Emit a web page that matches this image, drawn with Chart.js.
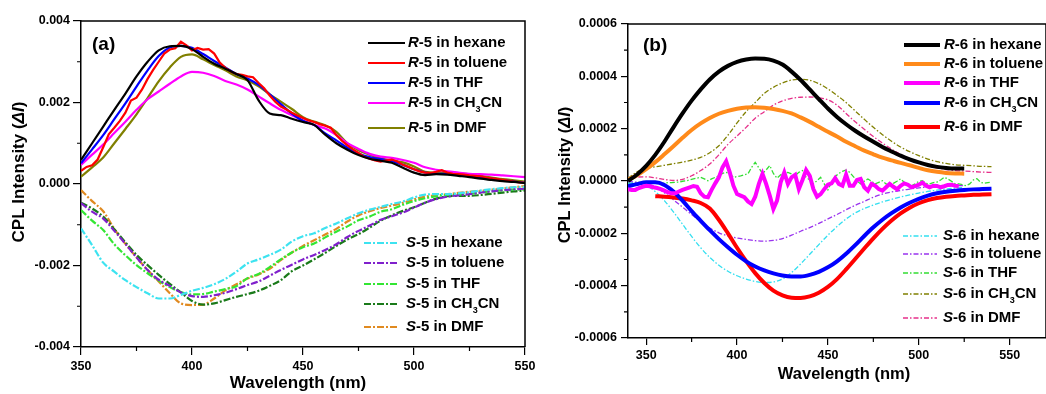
<!DOCTYPE html>
<html>
<head>
<meta charset="utf-8">
<script src="https://cdn.jsdelivr.net/npm/chart.js@4.4.0/dist/chart.umd.min.js"></script>
<style>
html, body { margin: 0; padding: 0; background: #fff; }
#wrap { position: relative; width: 1046px; height: 394px; overflow: hidden; }
canvas { position: absolute; top: 0; }
#cplA { left: 0; }
#cplB { left: 540px; }
</style>
</head>
<body>
<div id="wrap">
  <canvas id="cplA" width="560" height="394"></canvas>
  <canvas id="cplB" width="506" height="394"></canvas>
</div>
<script>
const FONT = "'Liberation Sans', Arial, Helvetica, sans-serif";
const solvents = ['hexane', 'toluene', 'THF', 'CH3CN', 'DMF'];

// ---- panel (a): compound 5 ----
const nmA = [350,355,360,365,370,375,380,385,390,395,400,405,410,415,420,425,430,435,440,445,450,
  455,460,465,470,475,480,485,490,495,500,505,510,515,520,525,530,535,540,545,550];
const nmAfine = [350,352.5,355,357.5,360,362.5,365,367.5,370,372.5,375,377.5,380,382.5,385,387.5,390,392.5,
  395,397.5,400,402.5,405,407.5,410,412.5,415,417.5,420,422.5,425,427.5,430,432.5,435,437.5,440,442.5,445,
  447.5,450,452.5,455,457.5,460,462.5,465,467.5,470,472.5,475,477.5,480,482.5,485,487.5,490,492.5,495,497.5,
  500,502.5,505,507.5,510,512.5,515,517.5,520,522.5,525,527.5,530,532.5,535,537.5,540,542.5,545,547.5,550];

const r5Hexane = [0.00059,0.00100,0.00141,0.00182,0.00222,0.00264,0.00300,0.00328,0.00338,0.00339,0.00331,
  0.00312,0.00295,0.00283,0.00270,0.00255,0.00205,0.00173,0.00169,0.00160,0.00152,0.00145,0.00121,0.00100,
  0.00084,0.00071,0.00062,0.00057,0.00052,0.00040,0.00028,0.00022,0.00024,0.00023,0.00020,0.00017,0.00013,
  0.00010,0.00007,0.00005,0.00002];
const r5Toluene = [0.00032,0.00042,0.00046,0.00060,0.00090,0.00122,0.00138,0.00155,0.00175,0.00205,0.00212,
  0.00232,0.00258,0.00280,0.00300,0.00320,0.00330,0.00333,0.00349,0.00340,0.00328,0.00334,0.00330,0.00331,
  0.00320,0.00298,0.00285,0.00276,0.00270,0.00268,0.00264,0.00262,0.00248,0.00235,0.00217,0.00202,0.00190,
  0.00183,0.00175,0.00168,0.00162,0.00156,0.00152,0.00147,0.00143,0.00138,0.00120,0.00106,0.00095,0.00085,
  0.00076,0.00067,0.00062,0.00058,0.00055,0.00058,0.00060,0.00055,0.00047,0.00042,0.00036,0.00031,0.00028,
  0.00027,0.00030,0.00034,0.00028,0.00025,0.00024,0.00023,0.00021,0.00020,0.00019,0.00016,0.00014,0.00012,
  0.00010,0.00008,0.00006,0.00004,0.00003];
const r5THF = [0.00051,0.00085,0.00120,0.00159,0.00198,0.00239,0.00279,0.00314,0.00335,0.00339,0.00334,
  0.00319,0.00302,0.00286,0.00270,0.00259,0.00243,0.00220,0.00196,0.00173,0.00155,0.00145,0.00124,0.00107,
  0.00089,0.00075,0.00066,0.00061,0.00056,0.00047,0.00036,0.00028,0.00025,0.00025,0.00022,0.00019,0.00016,
  0.00013,0.00009,0.00006,0.00003];
const r5CH3CN = [0.00047,0.00072,0.00097,0.00125,0.00153,0.00182,0.00208,0.00227,0.00246,0.00264,0.00275,
  0.00273,0.00265,0.00253,0.00244,0.00232,0.00215,0.00198,0.00182,0.00169,0.00156,0.00145,0.00136,0.00120,
  0.00100,0.00086,0.00074,0.00067,0.00064,0.00059,0.00052,0.00041,0.00035,0.00031,0.00028,0.00025,0.00024,
  0.00023,0.00021,0.00019,0.00017];
const r5DMF = [0.00018,0.00041,0.00065,0.00100,0.00135,0.00171,0.00211,0.00252,0.00286,0.00312,0.00318,
  0.00306,0.00292,0.00279,0.00264,0.00254,0.00240,0.00220,0.00202,0.00184,0.00164,0.00153,0.00144,0.00128,
  0.00100,0.00083,0.00072,0.00063,0.00058,0.00053,0.00043,0.00030,0.00028,0.00028,0.00026,0.00024,0.00020,
  0.00016,0.00012,0.00009,0.00006];

const s5Hexane = [-0.00109,-0.00150,-0.00193,-0.00215,-0.00236,-0.00253,-0.00268,-0.00281,-0.00281,-0.00272,
  -0.00262,-0.00255,-0.00246,-0.00233,-0.00215,-0.00195,-0.00185,-0.00174,-0.00161,-0.00141,-0.00128,-0.00121,
  -0.00108,-0.00097,-0.00084,-0.00072,-0.00063,-0.00056,-0.00049,-0.00043,-0.00033,-0.00026,-0.00025,-0.00025,
  -0.00023,-0.00020,-0.00016,-0.00013,-0.00010,-0.00008,-0.00007];
const s5Toluene = [-0.00047,-0.00068,-0.00085,-0.00115,-0.00147,-0.00180,-0.00211,-0.00235,-0.00250,-0.00266,
  -0.00275,-0.00277,-0.00273,-0.00267,-0.00258,-0.00248,-0.00239,-0.00225,-0.00211,-0.00198,-0.00185,-0.00174,
  -0.00162,-0.00148,-0.00130,-0.00115,-0.00102,-0.00088,-0.00079,-0.00070,-0.00058,-0.00046,-0.00037,-0.00031,
  -0.00028,-0.00025,-0.00021,-0.00018,-0.00015,-0.00013,-0.00011];
const s5THF = [-0.00064,-0.00090,-0.00113,-0.00148,-0.00175,-0.00199,-0.00219,-0.00237,-0.00253,-0.00265,
  -0.00271,-0.00270,-0.00264,-0.00258,-0.00251,-0.00231,-0.00221,-0.00204,-0.00185,-0.00168,-0.00155,-0.00146,
  -0.00131,-0.00117,-0.00104,-0.00089,-0.00080,-0.00068,-0.00062,-0.00051,-0.00042,-0.00035,-0.00030,-0.00027,
  -0.00026,-0.00024,-0.00021,-0.00018,-0.00016,-0.00014,-0.00013];
const s5CH3CN = [-0.00046,-0.00060,-0.00080,-0.00111,-0.00143,-0.00174,-0.00199,-0.00223,-0.00245,-0.00266,
  -0.00287,-0.00296,-0.00293,-0.00285,-0.00277,-0.00270,-0.00262,-0.00250,-0.00236,-0.00214,-0.00200,-0.00185,
  -0.00169,-0.00152,-0.00136,-0.00123,-0.00107,-0.00090,-0.00077,-0.00066,-0.00057,-0.00046,-0.00036,-0.00030,
  -0.00029,-0.00029,-0.00027,-0.00024,-0.00021,-0.00018,-0.00016];
const s5DMF = [-0.00015,-0.00042,-0.00067,-0.00110,-0.00147,-0.00180,-0.00211,-0.00239,-0.00268,-0.00293,
  -0.00297,-0.00296,-0.00281,-0.00261,-0.00246,-0.00232,-0.00222,-0.00208,-0.00187,-0.00168,-0.00152,-0.00138,
  -0.00124,-0.00110,-0.00092,-0.00077,-0.00067,-0.00059,-0.00053,-0.00046,-0.00038,-0.00031,-0.00028,-0.00025,
  -0.00022,-0.00019,-0.00017,-0.00014,-0.00011,-0.00008,-0.00005];

// ---- panel (b): compound 6 ----
const nmB = [340,345,350,355,360,365,370,375,380,385,390,395,400,405,410,415,420,425,430,435,440,
  445,450,455,460,465,470,475,480,485,490,495,500,505,510,515,520,525,530,535,540];
const nmBfine = [340,342,344,346,348,350,352,354,356,358,360,362,364,366,368,370,372,374,376,378,380,
  382,384,386,388,390,392,394,396,398,400,402,404,406,408,410,412,414,416,418,420,422,424,426,428,430,
  432,434,436,438,440,442,444,446,448,450,452,454,456,458,460,462,464,466,468,470,472,474,476,478,480,
  482,484,486,488,490,492,494,496,498,500,502,504,506,508,510,512,514,516,518,520,522,524,526,528,530,
  532,534,536,538,540];

const r6Hexane = [0.000000,0.000025,0.000058,0.000100,0.000150,0.000205,0.000258,0.000307,0.000350,0.000388,
  0.000418,0.000440,0.000455,0.000464,0.000468,0.000467,0.000460,0.000445,0.000418,0.000386,0.000350,0.000313,
  0.000277,0.000245,0.000217,0.000192,0.000170,0.000150,0.000130,0.000113,0.000097,0.000083,0.000071,0.000061,
  0.000054,0.000050,0.000048,0.000048,null,null,null];
const r6Toluene = [0.000005,0.000022,0.000045,0.000072,0.000102,0.000133,0.000165,0.000195,0.000220,0.000241,
  0.000257,0.000268,0.000276,0.000281,0.000282,0.000280,0.000275,0.000268,0.000258,0.000243,0.000226,0.000207,
  0.000188,0.000170,0.000150,0.000133,0.000116,0.000102,0.000089,0.000079,0.000069,0.000060,0.000050,0.000041,
  0.000035,0.000031,0.000029,0.000028,null,null,null];
const r6THF = [-0.000031,-0.000034,-0.000034,-0.000027,-0.000022,-0.000018,-0.00002,-0.000024,-0.000027,
  -0.000031,-0.000037,-0.000043,-0.000047,-0.000047,-0.00004,-0.000034,-0.000029,-0.000024,-0.000019,
  -0.000022,-0.000047,-0.00006,-0.000062,-0.000034,-0.000009,0.000014,0.000052,0.000075,0.000033,-0.000018,
  -0.00005,-0.000056,-0.000062,-0.000078,-0.000088,-0.00006,-0.000011,0.000027,-0.000011,-0.000056,-0.000107,
  -0.000075,-0.000005,0.000033,-0.000011,0.000014,0.000024,-0.000031,0.000004,0.000042,0.00002,-0.000031,
  -0.00006,-0.00005,-0.000031,-0.000014,-0.000009,0.000011,-0.000011,-0.000018,0.000024,-0.000018,-0.000018,
  0.000004,0.000008,-0.000024,-0.000037,-0.000011,-0.000018,-0.000031,-0.000037,-0.000024,-0.000011,-0.000022,
  -0.000031,-0.000018,-0.000009,-0.000014,-0.000024,-0.00002,-0.000014,-0.000006,-0.000018,-0.000024,-0.000018,
  -0.000019,-0.000024,-0.00002,-0.000015,-0.000014,-0.000018,-0.000019];
const r6CH3CN = [-0.000020,-0.000012,-0.000005,-0.000005,-0.000015,-0.000040,-0.000075,-0.000115,-0.000152,
  -0.000188,-0.000222,-0.000253,-0.000282,-0.000307,-0.000327,-0.000342,-0.000353,-0.000361,-0.000365,-0.000365,
  -0.000359,-0.000347,-0.000330,-0.000307,-0.000278,-0.000245,-0.000210,-0.000177,-0.000148,-0.000123,-0.000101,
  -0.000083,-0.000068,-0.000056,-0.000047,-0.000041,-0.000037,-0.000034,-0.000032,-0.000031,-0.000030];
const r6DMF = [null,null,null,-0.000058,-0.000060,-0.000063,-0.000067,-0.000074,-0.000084,-0.000105,-0.000148,
  -0.000200,-0.000255,-0.000306,-0.000352,-0.000390,-0.000419,-0.000437,-0.000446,-0.000447,-0.000441,-0.000427,
  -0.000405,-0.000375,-0.000338,-0.000298,-0.000258,-0.000219,-0.000183,-0.000151,-0.000124,-0.000102,-0.000085,
  -0.000073,-0.000065,-0.000060,-0.000057,-0.000055,-0.000053,-0.000052,-0.000051];

const s6Hexane = [-0.000008,-0.000010,-0.000018,-0.000040,-0.000075,-0.000118,-0.000165,-0.000212,-0.000255,
  -0.000292,-0.000322,-0.000345,-0.000362,-0.000375,-0.000384,-0.000388,-0.000386,-0.000374,-0.000350,-0.000317,
  -0.000280,-0.000243,-0.000207,-0.000174,-0.000145,-0.000122,-0.000105,-0.000092,-0.000080,-0.000070,-0.000061,
  -0.000053,-0.000046,-0.000040,-0.000035,-0.000031,-0.000027,-0.000024,null,null,null];
const s6Toluene = [-0.000002,-0.000005,-0.000010,-0.000022,-0.000045,-0.000072,-0.000100,-0.000128,-0.000155,
  -0.000180,-0.000198,-0.000210,-0.000218,-0.000223,-0.000228,-0.000230,-0.000227,-0.000220,-0.000207,-0.000192,
  -0.000178,-0.000162,-0.000145,-0.000128,-0.000110,-0.000093,-0.000078,-0.000062,-0.000050,-0.000042,-0.000036,
  -0.000031,-0.000026,-0.000023,-0.000021,-0.000019,-0.000018,-0.000018,null,null,null];
const s6THF = [-0.000009,-0.000008,-0.000006,-0.000005,-0.000005,-0.000006,-0.000008,-0.000009,-0.000009,
  -0.000009,-0.000008,-0.000006,-0.000006,-0.000005,-0.000004,-0.000001,0.000001,0.000004,0.000008,0.000011,
  0.000014,0.000008,0.000001,0.000008,0.000014,0.00002,0.000029,0.000033,0.000027,0.000014,0.000017,0.00002,
  0.000024,0.000027,0.000052,0.000071,0.00005,0.000029,0.000042,0.000059,0.000029,0.000011,0.000024,0.000029,
  0.000033,0.000027,0.00002,0.000033,0.00004,0.000014,0.000004,-0.000011,0.000001,0.000014,-0.000011,-0.000034,
  -0.000005,0.000017,0.000029,0.000037,0.000042,0.000033,0.000017,0.000001,-0.000011,-0.000001,0.000008,
  -0.000001,-0.000011,-0.000005,0.000001,-0.000011,-0.000018,-0.000009,-0.000001,0.000008,-0.000005,-0.000011,
  -0.000018,-0.000011,-0.000001,0.000001,-0.000009,-0.000011,-0.000006,-0.000004,0.000004,0.000014,0.000008,
  -0.000001,-0.000011,-0.000011,-0.000014,-0.000018,-0.000011,0.000004,0.000009,-0.000005,-0.000009,-0.000006,
  -0.000005];
const s6CH3CN = [0.000010,0.000035,0.000048,0.000054,0.000060,0.000066,0.000072,0.000080,0.000090,0.000108,
  0.000135,0.000175,0.000222,0.000265,0.000300,0.000335,0.000358,0.000375,0.000386,0.000389,0.000385,0.000372,
  0.000352,0.000327,0.000300,0.000268,0.000236,0.000205,0.000177,0.000152,0.000130,0.000112,0.000097,0.000084,
  0.000074,0.000067,0.000062,0.000060,0.000058,0.000056,0.000055];
const s6DMF = [0.000008,0.000015,0.000016,0.000012,0.000006,0.000002,0.000006,0.000020,0.000040,0.000065,
  0.000100,0.000140,0.000172,0.000205,0.000240,0.000265,0.000290,0.000306,0.000316,0.000320,0.000321,0.000318,
  0.000310,0.000290,0.000258,0.000226,0.000198,0.000170,0.000145,0.000122,0.000101,0.000083,0.000070,0.000059,
  0.000050,0.000044,0.000040,0.000038,0.000036,0.000034,0.000033];

function pts(xs, ys) {
  return ys.map((y, i) => ({ x: xs[i], y: y })).filter(p => p.y !== null);
}

// smooth spectra use monotone splines, noisy traces are drawn point to point
function series(label, xs, ys, color, width, dash, smooth) {
  return {
    label: label, data: pts(xs, ys),
    borderColor: color, backgroundColor: color,
    borderWidth: width, borderDash: dash || [],
    pointRadius: 0, fill: false,
    cubicInterpolationMode: smooth ? 'monotone' : 'default',
    tension: smooth ? 0.4 : 0
  };
}

// legend text: italic R / S, subscript 3 in CH3CN
function labelRuns(label) {
  const runs = [{ t: label[0], it: true }];
  const rest = label.slice(1);
  const k = rest.indexOf('CH3CN');
  if (k < 0) runs.push({ t: rest });
  else runs.push({ t: rest.slice(0, k) + 'CH' }, { t: '3', sub: true }, { t: 'CN' + rest.slice(k + 5) });
  return runs;
}

function runFont(r, size) {
  const s = r.sub ? Math.round(size * 0.6) : size;
  return (r.it ? 'italic ' : '') + 'bold ' + s + 'px ' + FONT;
}

function runsWidth(ctx, runs, size) {
  let w = 0;
  runs.forEach(r => { ctx.font = runFont(r, size); w += ctx.measureText(r.t).width; });
  return w;
}

function drawRuns(ctx, runs, x, y, size) {
  ctx.textBaseline = 'middle';
  ctx.textAlign = 'left';
  runs.forEach(r => {
    ctx.font = runFont(r, size);
    ctx.fillText(r.t, x, r.sub ? y + size * 0.45 : y);
    x += ctx.measureText(r.t).width;
  });
}

// frame, minor ticks, titles, panel tag and the two legend blocks
function decor(o) {
  return {
    id: 'decor',
    afterDraw(chart) {
      const ctx = chart.ctx, a = chart.chartArea;
      const sx = chart.scales.x, sy = chart.scales.y;
      ctx.save();
      ctx.strokeStyle = '#000';
      ctx.setLineDash([]);
      ctx.lineWidth = 1.5;
      ctx.beginPath();
      ctx.moveTo(a.left, a.top);
      ctx.lineTo(a.right, a.top);
      ctx.lineTo(a.right, a.bottom);
      ctx.stroke();

      ctx.lineWidth = 1.2;
      ctx.beginPath();
      o.minorX.forEach(v => {
        const p = sx.getPixelForValue(v);
        ctx.moveTo(p, a.bottom); ctx.lineTo(p, a.bottom + 4);
      });
      o.minorY.forEach(v => {
        const p = sy.getPixelForValue(v);
        ctx.moveTo(a.left, p); ctx.lineTo(a.left - 4, p);
      });
      ctx.stroke();

      ctx.fillStyle = '#000';
      ctx.font = 'bold 19px ' + FONT;
      ctx.textBaseline = 'middle';
      ctx.textAlign = 'left';
      ctx.fillText(o.tag, o.tagX, o.tagY);

      ctx.font = 'bold ' + o.titleSize + 'px ' + FONT;
      ctx.textAlign = 'center';
      ctx.fillText('Wavelength (nm)', o.xTitleX, o.xTitleY);

      const yRuns = [{ t: 'CPL Intensity (' }, { t: '\u0394I', it: true }, { t: ')' }];
      ctx.save();
      ctx.translate(o.yTitleX, o.yTitleY);
      ctx.rotate(-Math.PI / 2);
      drawRuns(ctx, yRuns, -runsWidth(ctx, yRuns, o.titleSize) / 2, 0, o.titleSize);
      ctx.restore();

      o.legends.forEach(g => {
        g.ids.forEach((id, k) => {
          const ds = chart.data.datasets[id];
          const y = g.y + g.offsets[k];
          ctx.strokeStyle = ds.borderColor;
          ctx.lineWidth = ds.borderWidth;
          ctx.setLineDash(ds.borderDash);
          ctx.beginPath();
          ctx.moveTo(g.x0, y);
          ctx.lineTo(g.x1, y);
          ctx.stroke();
          ctx.setLineDash([]);
          ctx.fillStyle = '#000';
          drawRuns(ctx, labelRuns(ds.label), g.tx, y, 15);
        });
      });
      ctx.restore();
    }
  };
}

function makeChart(id, datasets, sx, sy, lay, deco) {
  const tickFont = { family: FONT, size: 12.5, weight: 'bold' };
  return new Chart(document.getElementById(id), {
    type: 'line',
    data: { datasets: datasets },
    options: {
      responsive: false,
      animation: false,
      devicePixelRatio: 1,
      layout: { padding: lay.padding },
      plugins: { legend: { display: false }, tooltip: { enabled: false } },
      scales: {
        x: {
          type: 'linear', min: sx.min, max: sx.max,
          ticks: { stepSize: sx.step, includeBounds: false, padding: sx.pad, color: '#000', font: tickFont, maxRotation: 0 },
          grid: { drawOnChartArea: false, tickLength: sx.tick, color: '#000', lineWidth: 1.2 },
          border: { color: '#000', width: 1.5 },
          afterFit: s => { s.height = lay.xh; }
        },
        y: {
          type: 'linear', min: sy.min, max: sy.max,
          ticks: { stepSize: sy.step, includeBounds: false, padding: sy.pad, color: '#000', font: tickFont,
                   callback: v => v.toFixed(sy.dec) },
          grid: { drawOnChartArea: false, tickLength: sy.tick, color: '#000', lineWidth: 1.2 },
          border: { color: '#000', width: 1.5 },
          afterFit: s => { s.width = lay.yw; }
        }
      }
    },
    plugins: [deco]
  });
}

const dashA = [7, 2, 2, 2];
const dashB = [5, 2, 1.5, 2];

const setA = [
  series('R-5 in ' + solvents[0], nmA, r5Hexane, '#000000', 2.2, null, true),
  series('R-5 in ' + solvents[1], nmAfine, r5Toluene, '#ff0000', 2.2, null, false),
  series('R-5 in ' + solvents[2], nmA, r5THF, '#0000ff', 2.2, null, true),
  series('R-5 in ' + solvents[3], nmA, r5CH3CN, '#ff00ff', 2.2, null, true),
  series('R-5 in ' + solvents[4], nmA, r5DMF, '#808000', 2.2, null, true),
  series('S-5 in ' + solvents[0], nmA, s5Hexane, '#3de3f0', 2.2, dashA, true),
  series('S-5 in ' + solvents[1], nmA, s5Toluene, '#8020cc', 2.2, dashA, true),
  series('S-5 in ' + solvents[2], nmA, s5THF, '#33e633', 2.2, dashA, true),
  series('S-5 in ' + solvents[3], nmA, s5CH3CN, '#1a7a1a', 2.2, dashA, true),
  series('S-5 in ' + solvents[4], nmA, s5DMF, '#e08a20', 2.2, dashA, true)
];

const setB = [
  series('R-6 in ' + solvents[0], nmB, r6Hexane, '#000000', 4, null, true),
  series('R-6 in ' + solvents[1], nmB, r6Toluene, '#ff8a1a', 4, null, true),
  series('R-6 in ' + solvents[2], nmBfine, r6THF, '#ff00ff', 4, null, false),
  series('R-6 in ' + solvents[3], nmB, r6CH3CN, '#0000ff', 4, null, true),
  series('R-6 in ' + solvents[4], nmB, r6DMF, '#ff0000', 4, null, true),
  series('S-6 in ' + solvents[0], nmB, s6Hexane, '#33dff0', 1.3, dashB, true),
  series('S-6 in ' + solvents[1], nmB, s6Toluene, '#9933ee', 1.3, dashB, true),
  series('S-6 in ' + solvents[2], nmBfine, s6THF, '#33dd33', 1.3, dashB, false),
  series('S-6 in ' + solvents[3], nmB, s6CH3CN, '#808000', 1.3, dashB, true),
  series('S-6 in ' + solvents[4], nmB, s6DMF, '#e6308a', 1.3, dashB, true)
];

makeChart('cplA', setA,
  { min: 350, max: 550, step: 50, pad: 4, tick: 8 },
  { min: -0.004, max: 0.004, step: 0.002, pad: 3, tick: 8, dec: 3 },
  { padding: { left: 0, right: 35, top: 21, bottom: 0 }, xh: 47, yw: 81 },
  decor({
    tag: '(a)', tagX: 92, tagY: 45,
    titleSize: 17, xTitleX: 298, xTitleY: 383, yTitleX: 19, yTitleY: 172,
    minorX: [375, 425, 475, 525], minorY: [0.003, 0.001, -0.001, -0.003],
    legends: [
      { ids: [0, 1, 2, 3, 4], x0: 368, x1: 405, tx: 408, y: 43, offsets: [0, 20, 40, 60, 85] },
      { ids: [5, 6, 7, 8, 9], x0: 364, x1: 397, tx: 406, y: 243, offsets: [0, 20, 41, 61, 84] }
    ]
  }));

makeChart('cplB', setB,
  { min: 340, max: 570, step: 50, pad: 3, tick: 7 },
  { min: -0.0006, max: 0.0006, step: 0.0002, pad: 4, tick: 7, dec: 4 },
  { padding: { left: 0, right: 0, top: 24, bottom: 0 }, xh: 56, yw: 88 },
  decor({
    tag: '(b)', tagX: 103, tagY: 46,
    titleSize: 16.5, xTitleX: 304, xTitleY: 374, yTitleX: 25, yTitleY: 175,
    minorX: [375, 425, 475, 525], minorY: [0.0005, 0.0003, 0.0001, -0.0001, -0.0003, -0.0005],
    legends: [
      { ids: [0, 1, 2, 3, 4], x0: 364, x1: 400, tx: 404, y: 45, offsets: [0, 19, 38, 58, 82] },
      { ids: [5, 6, 7, 8, 9], x0: 363, x1: 397, tx: 403, y: 236, offsets: [0, 18, 37, 58, 82] }
    ]
  }));
</script>
</body>
</html>
